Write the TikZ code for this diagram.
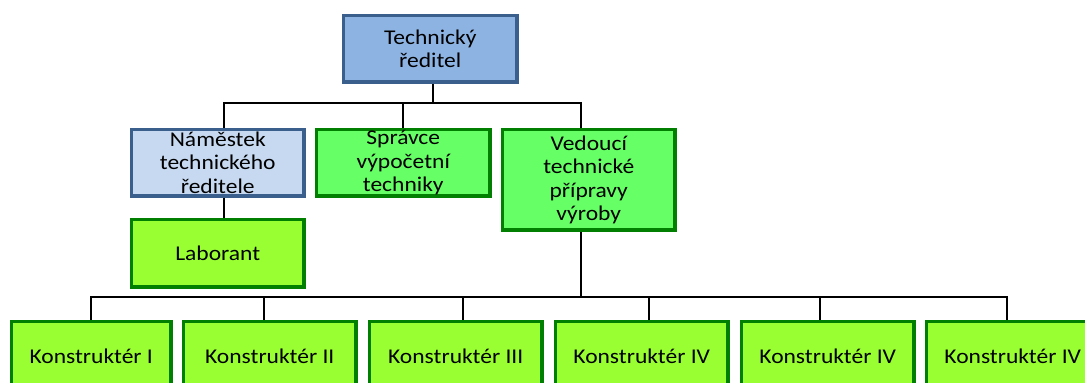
\documentclass[tikz,border=0pt]{standalone}
\usepackage{fontspec}
\setmainfont{Carlito}
\newfontfamily\boxfont[FakeStretch=1.12]{Carlito}
\definecolor{topfill}{HTML}{8DB3E2}
\definecolor{bluedge}{HTML}{3A5F8C}
\definecolor{namfill}{HTML}{C6D9F1}
\definecolor{grnfill}{HTML}{66FF66}
\definecolor{limefill}{HTML}{99FF33}
\definecolor{grnedge}{HTML}{007F00}
\tikzset{
  box/.style={draw, line width=3.5pt, anchor=north west, inner sep=0pt, align=center,
    font=\boxfont\fontsize{21}{23.5}\selectfont, text=black},
  bluebox/.style={box, draw=bluedge, fill=topfill},
  lightbox/.style={box, draw=bluedge, fill=namfill},
  greenbox/.style={box, draw=grnedge, fill=grnfill},
  limebox/.style={box, draw=grnedge, fill=limefill},
  conn/.style={draw=black, line width=2pt},
}
\begin{document}
\begin{tikzpicture}[x=1pt,y=-1pt]
\useasboundingbox (0,0) rectangle (1085,383);
\clip (0,0) rectangle (1085,383);
\node[bluebox, minimum width=173.5pt, minimum height=66.5pt] (top) at (341.75,13.75) {Technický\\ředitel};
\node[lightbox, minimum width=172.5pt, minimum height=66.5pt] (nam) at (129.75,127.75) {Náměstek\\technického\\ředitele};
\node[greenbox, minimum width=173.5pt, minimum height=66.5pt] (spr) at (314.75,127.75) {Správce\\výpočetní\\techniky};
\node[greenbox, minimum width=172.5pt, minimum height=100.5pt] (ved) at (500.75,127.75) {Vedoucí\\technické\\přípravy\\výroby};
\node[limebox, minimum width=172.5pt, minimum height=67.5pt] (lab) at (129.75,217.75) {Laborant};
\node[limebox, minimum width=159.5pt, minimum height=70pt] (k1) at (9.75,319.75) {Konstruktér I};
\node[limebox, minimum width=172.5pt, minimum height=70pt] (k2) at (181.75,319.75) {Konstruktér II};
\node[limebox, minimum width=172.5pt, minimum height=70pt] (k3) at (367.75,319.75) {Konstruktér III};
\node[limebox, minimum width=172.5pt, minimum height=70pt] (k4) at (553.75,319.75) {Konstruktér IV};
\node[limebox, minimum width=172.5pt, minimum height=70pt] (k5) at (739.75,319.75) {Konstruktér IV};
\node[limebox, minimum width=172.5pt, minimum height=70pt] (k6) at (924.75,319.75) {Konstruktér IV};
\coordinate (bus1) at (0,103);
\coordinate (bus2) at (0,297);
\draw[conn] ([xshift=3pt]top.south) -- ([xshift=3pt]top.south |- bus1);
\draw[conn] ([xshift=6pt]nam.north) -- ([xshift=6pt]nam.north |- bus1) -- ([xshift=-8pt]ved.north |- bus1) -- ([xshift=-8pt]ved.north);
\draw[conn] (spr.north) -- (spr.north |- bus1);
\draw[conn] ([xshift=6pt]nam.south) -- ([xshift=6pt]lab.north);
\draw[conn] ([xshift=-8pt]ved.south) -- ([xshift=-8pt]ved.south |- bus2);
\draw[conn] (k1.north) -- (k1.north |- bus2) -- ([xshift=-6pt]k6.north |- bus2) -- ([xshift=-6pt]k6.north);
\draw[conn] ([xshift=-6pt]k2.north) -- ([xshift=-6pt]k2.north |- bus2);
\draw[conn] ([xshift=7pt]k3.north) -- ([xshift=7pt]k3.north |- bus2);
\draw[conn] ([xshift=7pt]k4.north) -- ([xshift=7pt]k4.north |- bus2);
\draw[conn] ([xshift=-8pt]k5.north) -- ([xshift=-8pt]k5.north |- bus2);
\end{tikzpicture}
\end{document}
